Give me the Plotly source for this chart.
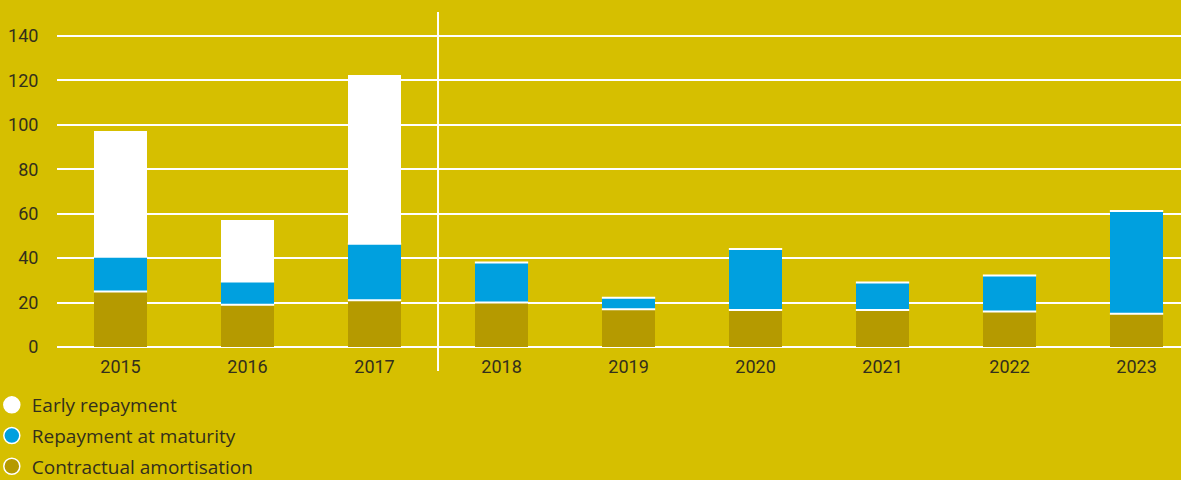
import plotly.graph_objects as go

years = ["2015", "2016", "2017", "2018", "2019", "2020", "2021", "2022", "2023"]
contractual = [25, 19, 21, 20, 17, 16.7, 16.7, 16, 15]
maturity = [15.6, 10.5, 25.5, 18, 5.2, 27.4, 12.3, 16.2, 46.2]
early = [56.6, 27.8, 76, 0, 0, 0, 0, 0, 0]
yticks = [0, 20, 40, 60, 80, 100, 120, 140]

BG = "#D6BF00"
BLUE = "#00A0DF"
BROWN = "#B59A00"
WHITE = "#FFFFFF"
TXT = "#332F1C"
FONT = "Roboto"
LFONT = "Open Sans"

fig = go.Figure()
fig.add_bar(x=years, y=contractual, marker=dict(color=BROWN, line=dict(width=0)), showlegend=False)
fig.add_bar(x=years, y=maturity, marker=dict(color=BLUE, line=dict(width=0)), showlegend=False)
fig.add_bar(x=years, y=early, marker=dict(color=WHITE, line=dict(width=0)), showlegend=False)

# legend entries (circles)
for name, col in [("Early repayment", WHITE), ("Repayment at maturity", BLUE), ("Contractual amortisation", BROWN)]:
    fig.add_scatter(x=[None], y=[None], mode="markers", name=name, legendgroup=name,
                    marker=dict(size=16, color=col, line=dict(color=WHITE, width=1.5)))

bar_half = 0.21
shapes = []
for i in range(len(years)):
    b1 = contractual[i]
    b2 = contractual[i] + maturity[i]
    for yv in (b1, b2):
        shapes.append(dict(type="line", xref="x", yref="y", x0=i - bar_half, x1=i + bar_half,
                           y0=yv, y1=yv, line=dict(color=WHITE, width=2), layer="above"))
# divider between actuals and forecast
shapes.append(dict(type="line", xref="x", yref="paper", x0=2.5, x1=2.5, y0=-0.0716, y1=1,
                   line=dict(color=WHITE, width=2), layer="above"))

fig.update_layout(
    barmode="stack",
    bargap=0.583,
    width=1181, height=480,
    margin=dict(l=57, r=0, t=12, b=133, autoexpand=False),
    paper_bgcolor=BG, plot_bgcolor=BG,
    font=dict(family=FONT, size=18, color=TXT),
    shapes=shapes,
    showlegend=True,
    legend=dict(
        xref="paper", yref="container", x=-0.058, y=1 - 386 / 480, xanchor="left", yanchor="top",
        font=dict(family=LFONT, size=19, color=TXT),
        traceorder="grouped", tracegroupgap=3, bgcolor="rgba(0,0,0,0)",
    ),
    xaxis=dict(type="category", range=[-0.5, 8.35], showgrid=False, zeroline=False,
               showline=False, ticks="outside", ticklen=3, tickcolor="rgba(0,0,0,0)",
               tickfont=dict(family=FONT, size=18, color=TXT), fixedrange=True),
    yaxis=dict(range=[0, 150.8], tickvals=yticks, showgrid=True, gridcolor=WHITE, gridwidth=2,
               zeroline=True, zerolinecolor=WHITE, zerolinewidth=2, showline=False,
               ticks="outside", ticklen=14, tickcolor="rgba(0,0,0,0)",
               tickfont=dict(family=FONT, size=18, color=TXT)),
)

fig.write_html("out.html")
